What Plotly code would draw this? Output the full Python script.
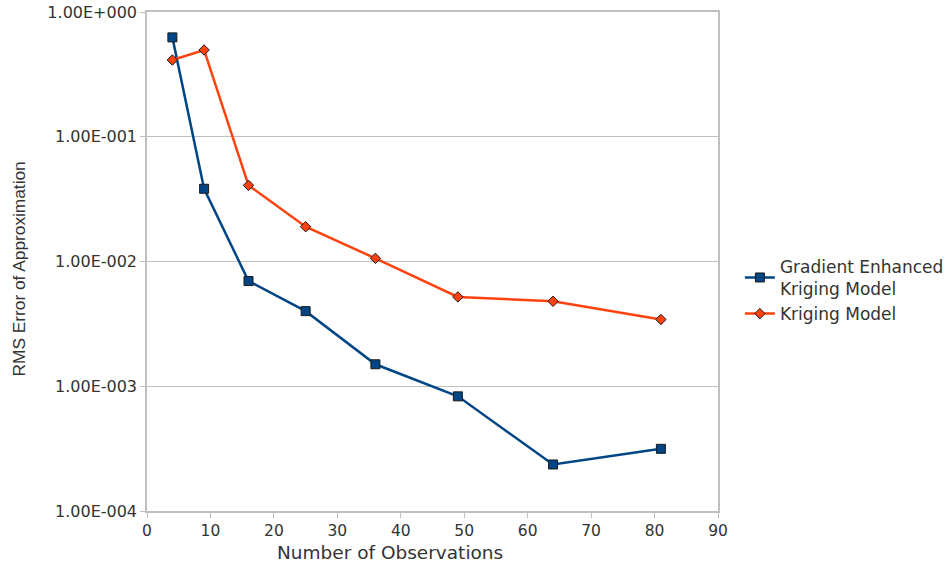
import plotly.graph_objects as go

# Number of observations used to build each surrogate
observations = [4, 9, 16, 25, 36, 49, 64, 81]

# RMS error of the approximation for each model
gek_error = [0.626, 0.0383, 0.00697, 0.0040, 0.0015, 0.00083, 0.000236, 0.000315]
kriging_error = [0.412, 0.496, 0.0408, 0.019, 0.0106, 0.0052, 0.0048, 0.00343]

# Decade ticks on the log axis
y_tick_vals = [1e-4, 1e-3, 1e-2, 1e-1, 1e0]
y_tick_text = ["1.00E-004", "1.00E-003", "1.00E-002", "1.00E-001", "1.00E+000"]

x_title = "Number of Observations"
y_title = "RMS Error of Approximation"

wide_font = "DejaVu Sans, Verdana, sans-serif"
plain_font = "Liberation Sans, Arial, sans-serif"
text_color = "#333333"
grid_color = "#c0c0c0"

fig = go.Figure()
fig.add_trace(go.Scatter(
    x=observations, y=gek_error, mode="lines+markers",
    name="Gradient Enhanced<br>Kriging Model",
    line=dict(color="#004586", width=2.5),
    marker=dict(symbol="square", size=9, color="#004586",
                line=dict(color="#1a1a1a", width=1)),
))
fig.add_trace(go.Scatter(
    x=observations, y=kriging_error, mode="lines+markers",
    name="Kriging Model",
    line=dict(color="#ff420e", width=2.5),
    marker=dict(symbol="diamond", size=8, color="#ff420e",
                line=dict(color="#1a1a1a", width=1)),
))

fig.update_layout(
    width=951, height=566,
    margin=dict(l=147, r=233, t=12, b=55, autoexpand=False),
    paper_bgcolor="white", plot_bgcolor="white",
    font=dict(family=wide_font, size=14, color=text_color),
    legend=dict(xref="container", yref="container",
                x=0.778, y=0.487, xanchor="left", yanchor="middle",
                font=dict(family=wide_font, size=17, color=text_color),
                bgcolor="rgba(0,0,0,0)", tracegroupgap=0,
                itemwidth=30),
    xaxis=dict(
        range=[0, 90], tickvals=list(range(0, 91, 10)),
        showgrid=False, zeroline=False, automargin=False,
        showline=True, linecolor=grid_color, linewidth=1.5, mirror=True,
        ticks="outside", ticklen=5, tickcolor=grid_color,
        tickfont=dict(family=wide_font, size=15.5, color=text_color),
    ),
    yaxis=dict(
        type="log", range=[-4, 0],
        tickvals=y_tick_vals, ticktext=y_tick_text,
        showgrid=True, gridcolor=grid_color, gridwidth=1,
        zeroline=False, automargin=False,
        showline=True, linecolor=grid_color, linewidth=1.5, mirror=True,
        ticks="outside", ticklen=5, tickcolor=grid_color,
        tickfont=dict(family=wide_font, size=16, color=text_color),
    ),
)

# Axis titles, placed as free text below and left of the plot area
fig.add_annotation(
    text=x_title, xref="paper", yref="paper", x=0.426, y=0,
    xanchor="center", yanchor="middle", yshift=-41, showarrow=False,
    font=dict(family=wide_font, size=18.5, color=text_color),
)
fig.add_annotation(
    text=y_title, xref="paper", yref="paper", x=-0.2237, y=0.4847,
    xanchor="center", yanchor="middle", textangle=-90, showarrow=False,
    font=dict(family=plain_font, size=17.3, color=text_color),
)

fig.write_html("out.html")
